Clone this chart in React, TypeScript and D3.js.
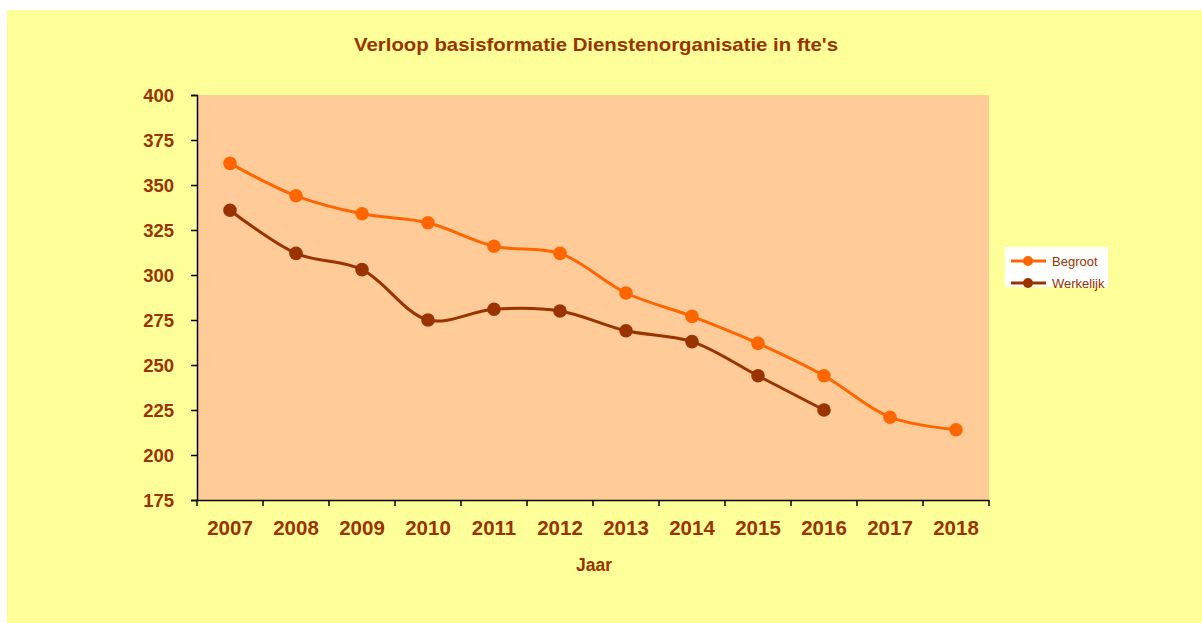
import { useEffect, useRef } from "react";
import * as d3 from "d3";

const years = ["2007", "2008", "2009", "2010", "2011", "2012", "2013", "2014", "2015", "2016", "2017", "2018"];
const begroot = [362, 344, 334, 329, 316, 312, 290, 277, 262, 244, 221, 214];
const werkelijk = [336, 312, 303, 275, 281, 280, 269, 263, 244, 225];
const yTicks = [175, 200, 225, 250, 275, 300, 325, 350, 375, 400];

const seriesList = [
    { name: "Begroot", values: begroot, color: "#FF6600" },
    { name: "Werkelijk", values: werkelijk, color: "#993300" },
];

const TEXT = "#993300";
const FONT = "'Liberation Sans', Arial, sans-serif";

export default function App() {
    const svgRef = useRef<SVGSVGElement>(null);

    useEffect(() => {
        if (!svgRef.current) return;
        const width = 1202;
        const height = 623;
        const plot = { left: 197, top: 95, right: 989, bottom: 500 };

        const svg = d3.select(svgRef.current);
        svg.selectAll("*").remove();
        svg.attr("width", width).attr("height", height);

        // chart background
        svg.append("rect")
            .attr("x", 7)
            .attr("y", 10)
            .attr("width", width - 7)
            .attr("height", height - 10)
            .attr("fill", "#FFFF99");

        const x = d3.scaleBand<string>().domain(years).range([plot.left, plot.right]);
        const y = d3.scaleLinear().domain([175, 400]).range([plot.bottom, plot.top]);

        // plot area
        svg.append("rect")
            .attr("x", plot.left)
            .attr("y", plot.top)
            .attr("width", plot.right - plot.left)
            .attr("height", plot.bottom - plot.top)
            .attr("fill", "#FFCC99");

        // title
        svg.append("text")
            .attr("x", 596)
            .attr("y", 51)
            .attr("text-anchor", "middle")
            .attr("font-family", FONT)
            .attr("font-weight", "bold")
            .attr("font-size", "19px")
            .attr("textLength", 484)
            .attr("lengthAdjust", "spacingAndGlyphs")
            .attr("fill", TEXT)
            .text("Verloop basisformatie Dienstenorganisatie in fte's");

        // y axis
        const yAxis = svg.append("g")
            .attr("transform", `translate(${plot.left},0)`)
            .call(d3.axisLeft(y).tickValues(yTicks).tickSize(6).tickPadding(17));
        yAxis.select(".domain").attr("stroke", "#000").attr("stroke-width", 1.5);
        yAxis.selectAll(".tick line").attr("stroke", "#000").attr("stroke-width", 1.5);
        yAxis.selectAll(".tick text")
            .attr("font-family", FONT)
            .attr("font-weight", "bold")
            .attr("font-size", "18.5px")
            .attr("fill", TEXT)
            .attr("dy", "0.36em");

        // x axis
        const xAxis = svg.append("g")
            .attr("transform", `translate(0,${plot.bottom})`)
            .call(d3.axisBottom(x).tickSize(0).tickPadding(20));
        xAxis.select(".domain").attr("stroke", "#000").attr("stroke-width", 1.5);
        xAxis.selectAll(".tick text")
            .attr("font-family", FONT)
            .attr("font-weight", "bold")
            .attr("font-size", "20.5px")
            .attr("fill", TEXT);

        // category boundary ticks
        const bounds = years.map((yr) => x(yr) as number).concat([plot.right]);
        svg.append("g")
            .selectAll("line")
            .data(bounds)
            .enter()
            .append("line")
            .attr("x1", (d) => d)
            .attr("x2", (d) => d)
            .attr("y1", plot.bottom)
            .attr("y2", plot.bottom + 6)
            .attr("stroke", "#000")
            .attr("stroke-width", 1.5);

        // x axis title
        svg.append("text")
            .attr("x", 594)
            .attr("y", 571)
            .attr("text-anchor", "middle")
            .attr("font-family", FONT)
            .attr("font-weight", "bold")
            .attr("font-size", "17.5px")
            .attr("fill", TEXT)
            .text("Jaar");

        const cx = (i: number) => (x(years[i]) as number) + x.bandwidth() / 2;
        const line = d3
            .line<number>()
            .x((_, i) => cx(i))
            .y((d) => y(d))
            .curve(d3.curveCatmullRom.alpha(0.5));

        seriesList.forEach((s) => {
            svg.append("path")
                .datum(s.values)
                .attr("d", line)
                .attr("fill", "none")
                .attr("stroke", s.color)
                .attr("stroke-width", 3);

            svg.append("g")
                .selectAll("circle")
                .data(s.values)
                .enter()
                .append("circle")
                .attr("cx", (_, i) => cx(i))
                .attr("cy", (d) => y(d))
                .attr("r", 6.8)
                .attr("fill", s.color);
        });

        // legend
        const legend = svg.append("g").attr("transform", "translate(1005,247)");
        legend.append("rect")
            .attr("width", 103)
            .attr("height", 40)
            .attr("fill", "#FFFFFF");

        seriesList.forEach((s, i) => {
            const row = legend.append("g").attr("transform", `translate(0,${14 + i * 22})`);
            row.append("line")
                .attr("x1", 6)
                .attr("x2", 41)
                .attr("stroke", s.color)
                .attr("stroke-width", 3);
            row.append("circle")
                .attr("cx", 23)
                .attr("r", 5)
                .attr("fill", s.color);
            row.append("text")
                .attr("x", 47)
                .attr("dy", "0.35em")
                .attr("font-family", FONT)
                .attr("font-size", "13px")
                .attr("fill", TEXT)
                .text(s.name);
        });
    }, []);

    return (
        <svg
            ref={svgRef}
            style={{ position: "absolute", left: 0, top: 0, display: "block" }}
        ></svg>
    );
}
